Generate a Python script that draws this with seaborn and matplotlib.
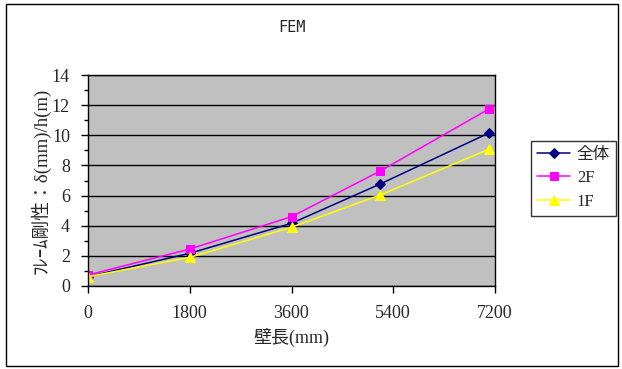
import pandas as pd
import numpy as np
import matplotlib
matplotlib.use('Agg')
import matplotlib.pyplot as plt
import seaborn as sns
from matplotlib.patches import Rectangle
from matplotlib.ticker import MultipleLocator

sns.set_style('white')
plt.rcParams['font.family'] = ['Liberation Serif', 'Noto Sans CJK JP', 'DejaVu Sans']

# data
wall_len = [0, 1800, 3600, 5170, 7090]
zentai = [0.62, 2.17, 4.16, 6.77, 10.15]
f2 = [0.73, 2.45, 4.6, 7.63, 11.74]
f1 = [0.62, 1.9, 3.9, 6.04, 9.07]
series_names = ['全体', '2F', '1F']
x_ticks = [0, 1800, 3600, 5400, 7200]
y_ticks = [0, 2, 4, 6, 8, 10, 12, 14]

df = pd.DataFrame({
    'x': wall_len * 3,
    'y': zentai + f2 + f1,
    'series': sum([[n] * len(wall_len) for n in series_names], []),
})

colors = {'全体': '#000080', '2F': '#FF00FF', '1F': '#FFFF00'}
markers = {'全体': 'D', '2F': 's', '1F': '^'}
msizes = {'全体': 5, '2F': 6, '1F': 7}

fig = plt.figure(figsize=(6.22, 3.69), dpi=100)
ax = fig.add_axes([88 / 622, 83 / 369, 407 / 622, 211 / 369])
ax.set_facecolor('#C0C0C0')

for name in series_names:
    sub = df[df['series'] == name]
    sns.lineplot(data=sub, x='x', y='y', ax=ax, color=colors[name],
                 marker=markers[name], markersize=msizes[name],
                 markeredgecolor=colors[name], linewidth=1.1, label=name)

ax.set_xlim(0, 7200)
ax.set_ylim(0, 14)
ax.set_xticks(x_ticks)
ax.set_yticks(y_ticks)
ax.yaxis.set_minor_locator(MultipleLocator(1))
ax.grid(axis='y', which='major', color='black', linewidth=1)
ax.tick_params(axis='both', which='major', direction='out', length=5, width=1,
               color='black', labelsize=13, left=True, bottom=True)
ax.tick_params(axis='x', which='major', pad=9)
ax.tick_params(axis='y', which='major', pad=8)
ax.tick_params(axis='y', which='minor', direction='out', length=3, width=1,
               color='black', left=True)
for s in ax.spines.values():
    s.set_color('black')
    s.set_linewidth(1)

ax.set_xlabel('壁長(mm)', fontsize=13, labelpad=4)
ax.set_ylabel('ﾌﾚｰﾑ剛性：δ(mm)/h(m)', fontsize=13.5, labelpad=1)
ax.set_title('FEM', fontsize=11, pad=31, family=['DejaVu Sans Mono'])

handles, labels = ax.get_legend_handles_labels()
ax.get_legend().remove()
leg = fig.legend(handles, labels, loc='upper left',
                 bbox_to_anchor=(531 / 622, 1 - 141 / 369), fontsize=12,
                 frameon=True, fancybox=False, handlelength=2.0,
                 borderpad=0.35, labelspacing=0.45, handletextpad=0.4,
                 borderaxespad=0)
leg.get_frame().set_edgecolor('black')
leg.get_frame().set_linewidth(1)

fig.patches.append(Rectangle((6 / 622, 3 / 369), 612 / 622, 362 / 369,
                             transform=fig.transFigure, fill=False,
                             edgecolor='black', linewidth=1))

plt.savefig('out.png', dpi=100)
plt.close()
